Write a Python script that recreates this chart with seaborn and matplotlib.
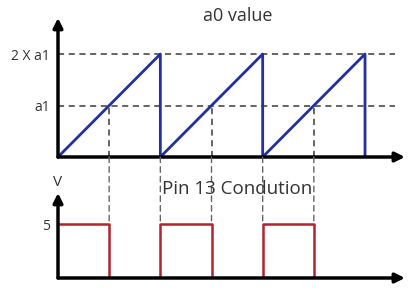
import numpy as np
import pandas as pd
import matplotlib
matplotlib.use("Agg")
import matplotlib.pyplot as plt
import seaborn as sns
from matplotlib.patches import ConnectionPatch

sns.set_theme(style="white")
plt.rcParams["font.family"] = ["Open Sans", "DejaVu Sans"]

# sawtooth of a0 (one period = 1 time unit, peak = 2 x a1)
saw_t = [0, 1, 1, 2, 2, 3, 3]
saw_v = [0, 2, 0, 2, 0, 2, 0]

# pin 13 output
pin_t = [0, 0.5, 0.5, 1, 1, 1.5, 1.5, 2, 2, 2.5, 2.5, 3.3]
pin_v = [5, 5, 0, 0, 5, 5, 0, 0, 5, 5, 0, 0]

cross_t = [0.5, 1.5, 2.5]   # a0 passes a1
reset_t = [1, 2]            # a0 resets

top_ticks = [1, 2]
top_labels = ["a1", "2 X a1"]
pin_high = 5

BLUE = "#2230a0"
RED = "#b3222e"
DASH = "#3a3a3a"

fig = plt.figure(figsize=(4.1, 2.88), dpi=100)
ax1 = fig.add_axes([58 / 410, 131 / 288, 350 / 410, 139 / 288])
ax2 = fig.add_axes([58 / 410, 10 / 288, 350 / 410, 85 / 288])

XMAX = 3.42
ax1.set_xlim(0, XMAX)
ax1.set_ylim(0, 2.7)
ax2.set_xlim(0, XMAX)
ax2.set_ylim(0, 7.9)

for ax in (ax1, ax2):
    for s in ax.spines.values():
        s.set_visible(False)
    ax.set_xticks([])
    ax.set_facecolor("none")

# reference lines at a1 and 2*a1
for y in top_ticks:
    ax1.plot([0, 3.29], [y, y], ls=(0, (4, 3)), color=DASH, lw=1.1, zorder=1)

# verticals from a1 crossing down to x axis
for t in cross_t:
    ax1.plot([t, t], [0, 1], ls=(0, (4, 3)), color=DASH, lw=1.1, zorder=1)

saw = pd.DataFrame({"t": saw_t, "v": saw_v})
sns.lineplot(data=saw, x="t", y="v", ax=ax1, sort=False, estimator=None,
             color=BLUE, lw=2, zorder=3)
pin = pd.DataFrame({"t": pin_t, "v": pin_v})
sns.lineplot(data=pin, x="t", y="v", ax=ax2, sort=False, estimator=None,
             color=RED, lw=1.8, zorder=3)

# dashed links between the two panels
for t in cross_t + reset_t:
    con = ConnectionPatch((t, 0), (t, pin_high), "data", "data", axesA=ax1, axesB=ax2,
                          ls=(0, (4, 3)), color="#666666", lw=1.0, zorder=1)
    fig.add_artist(con)

# arrow axes
arr = dict(arrowstyle="-|>", color="black", lw=2.5, mutation_scale=14, shrinkA=0, shrinkB=0)
for ax, ytop in ((ax1, 2.7), (ax2, 7.9)):
    ax.annotate("", xy=(3.39, 0), xytext=(0, 0), arrowprops=arr, annotation_clip=False)
    ax.annotate("", xy=(0, ytop), xytext=(0, 0), arrowprops=arr, annotation_clip=False)

ax1.set_yticks(top_ticks)
ax1.set_yticklabels(top_labels, fontsize=10, color="#333333")
ax2.set_yticks([pin_high])
ax2.set_yticklabels(["5"], fontsize=10, color="#333333")
for ax in (ax1, ax2):
    ax.tick_params(axis="y", length=0, pad=6)
    ax.set_xlabel("")
    ax.set_ylabel("")

fig.text(238 / 410, 1 - 16 / 288, "a0 value", ha="center", va="center", fontsize=13, color="#333333")
fig.text(237 / 410, 1 - 189 / 288, "Pin 13 Condution", ha="center", va="center", fontsize=13.5, color="#333333")
fig.text(58 / 410, 1 - 183 / 288, "V", ha="center", va="center", fontsize=11, color="#333333")

fig.savefig("out.png", dpi=100)
